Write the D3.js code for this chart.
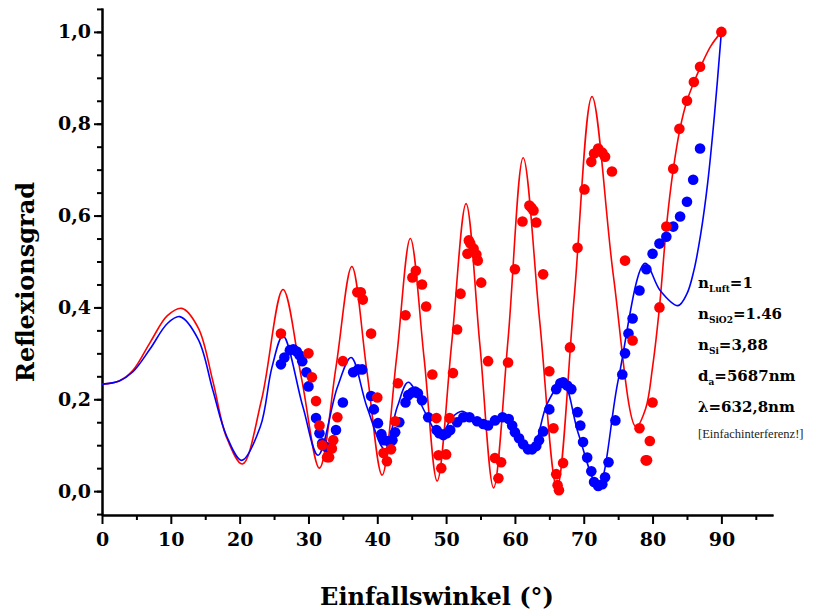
<!DOCTYPE html>
<html>
<head>
<meta charset="utf-8">
<script src="https://cdn.jsdelivr.net/npm/d3@7"></script>
<style>
  html, body { margin: 0; padding: 0; background: #fff; }
  .tick text { font-family: "DejaVu Serif", serif; font-weight: bold; font-size: 19px; fill: #000; }
  .axis path, .axis line { stroke: #000; stroke-width: 2; }
</style>
</head>
<body>
<div id="chart"></div>
<script>
// theory curves
const redCurveX = [0, 2.5, 4.5, 7, 9.5, 11.6, 14, 16.1, 18.1, 20.4, 23.2, 26.3, 29.0, 31.6, 34.0, 36.3, 38.5, 40.7, 42.8, 44.8, 46.8, 48.7, 50.8, 52.9, 54.9, 56.9, 59.0, 61.2, 63.6, 66.1, 68.6, 71.2, 74.3, 77.6, 79, 80, 81, 82, 83, 84, 85, 86, 87, 88.5, 90];
const redCurveY = [0.233, 0.24, 0.263, 0.324, 0.382, 0.398, 0.355, 0.24, 0.117, 0.059, 0.2, 0.439, 0.245, 0.05, 0.27, 0.489, 0.26, 0.035, 0.29, 0.55, 0.29, 0.022, 0.32, 0.626, 0.32, 0.007, 0.33, 0.726, 0.37, 0.007, 0.42, 0.859, 0.47, 0.14, 0.18, 0.27, 0.40, 0.574, 0.70, 0.79, 0.85, 0.89, 0.925, 0.97, 1.0];

const blueCurveX = [0, 2.5, 4.5, 7, 9.5, 11.3, 14, 16.1, 18.1, 20.3, 23.0, 24.7, 26.3, 29.2, 31.4, 34.2, 36.2, 38.5, 41.1, 42.9, 44.5, 47.0, 49.1, 50.9, 52.3, 54.2, 56.0, 58.3, 60.8, 62.5, 64.7, 67.0, 69.2, 72.1, 75.0, 78.9, 81.1, 83.7, 85, 86, 87, 88, 89, 90];
const blueCurveY = [0.233, 0.24, 0.26, 0.31, 0.365, 0.38, 0.33, 0.22, 0.12, 0.067, 0.14, 0.27, 0.338, 0.183, 0.078, 0.226, 0.291, 0.183, 0.091, 0.183, 0.237, 0.17, 0.12, 0.161, 0.174, 0.158, 0.143, 0.165, 0.117, 0.091, 0.191, 0.237, 0.126, 0.011, 0.241, 0.496, 0.437, 0.404, 0.43, 0.48, 0.56, 0.67, 0.82, 1.0];

// measured points
const redDotsX = [26.0, 30.0, 30.5, 31.1, 31.6, 32.0, 32.7, 33.0, 33.4, 33.6, 34.2, 35.0, 37.1, 37.6, 37.9, 39.1, 40.0, 40.9, 41.4, 42.0, 42.6, 43.0, 44.1, 45.1, 45.6, 46.5, 47.1, 48.0, 48.6, 48.9, 49.3, 50.0, 50.5, 51.0, 51.6, 52.1, 53.1, 53.3, 53.5, 54.0, 54.4, 54.6, 55.1, 56.1, 57.1, 57.6, 58.0, 59.0, 60.0, 61.1, 62.1, 62.4, 62.7, 63.1, 64.1, 65.0, 65.6, 66.0, 66.2, 66.4, 67.0, 68.0, 69.1, 70.1, 71.1, 71.5, 72.1, 72.7, 73.1, 74.1, 76.0, 77.1, 78.1, 79.0, 79.2, 79.6, 80.0, 81.0, 82.0, 83.0, 83.9, 85.0, 86.0, 86.9, 90.0];
const redDotsY = [0.343, 0.300, 0.248, 0.196, 0.143, 0.100, 0.074, 0.074, 0.093, 0.111, 0.161, 0.283, 0.433, 0.433, 0.417, 0.343, 0.204, 0.083, 0.065, 0.091, 0.152, 0.235, 0.383, 0.465, 0.480, 0.450, 0.402, 0.254, 0.159, 0.078, 0.050, 0.080, 0.159, 0.257, 0.352, 0.430, 0.517, 0.546, 0.540, 0.528, 0.515, 0.502, 0.454, 0.283, 0.072, 0.028, 0.063, 0.280, 0.483, 0.587, 0.622, 0.617, 0.611, 0.585, 0.472, 0.261, 0.137, 0.037, 0.013, 0.002, 0.061, 0.313, 0.530, 0.657, 0.717, 0.735, 0.746, 0.737, 0.728, 0.696, 0.502, 0.328, 0.137, 0.067, 0.067, 0.109, 0.193, 0.400, 0.576, 0.702, 0.789, 0.850, 0.891, 0.924, 1.000];

const blueDotsX = [26.0, 26.5, 27.3, 27.8, 28.3, 28.7, 29.1, 29.7, 30.0, 31.1, 31.6, 32.0, 32.6, 34.0, 35.0, 36.5, 37.2, 37.8, 39.1, 39.5, 40.1, 40.6, 41.0, 41.6, 42.2, 42.6, 43.2, 44.1, 44.5, 45.1, 45.5, 45.9, 46.5, 47.4, 48.6, 49.0, 49.6, 50.1, 50.6, 51.6, 52.5, 53.4, 54.5, 55.4, 56.1, 57.1, 58.2, 59.1, 59.6, 60.0, 60.6, 61.2, 61.9, 62.5, 63.1, 63.5, 64.1, 65.0, 66.0, 66.6, 67.0, 67.6, 68.2, 69.1, 69.5, 69.9, 70.5, 71.1, 71.5, 72.1, 72.7, 73.1, 73.6, 74.6, 75.6, 76.0, 76.5, 77.1, 78.1, 79.1, 80.0, 81.0, 82.0, 83.0, 84.0, 85.0, 85.9, 86.9];
const blueDotsY = [0.276, 0.291, 0.307, 0.309, 0.304, 0.296, 0.283, 0.259, 0.228, 0.159, 0.126, 0.104, 0.096, 0.133, 0.193, 0.259, 0.265, 0.265, 0.207, 0.178, 0.148, 0.124, 0.111, 0.109, 0.111, 0.128, 0.150, 0.193, 0.209, 0.215, 0.217, 0.213, 0.198, 0.161, 0.133, 0.126, 0.122, 0.126, 0.133, 0.150, 0.161, 0.161, 0.152, 0.146, 0.143, 0.154, 0.161, 0.157, 0.143, 0.128, 0.115, 0.102, 0.091, 0.091, 0.098, 0.111, 0.130, 0.178, 0.222, 0.235, 0.237, 0.230, 0.222, 0.172, 0.143, 0.107, 0.073, 0.043, 0.020, 0.011, 0.015, 0.030, 0.063, 0.154, 0.254, 0.300, 0.343, 0.376, 0.437, 0.483, 0.517, 0.539, 0.554, 0.576, 0.598, 0.630, 0.678, 0.746];

const xTicks = [0, 10, 20, 30, 40, 50, 60, 70, 80, 90];
const yTicks = [0.0, 0.2, 0.4, 0.6, 0.8, 1.0];

function reflexChart() {
    const W = 828, H = 611;
    const margin = { top: 8, right: 55, bottom: 96, left: 102 };
    const width = W - margin.left - margin.right;
    const height = H - margin.top - margin.bottom;

    const svg = d3.select("#chart")
        .append("svg")
        .attr("width", W)
        .attr("height", H)
        .append("g")
        .attr("transform", `translate(${margin.left}, ${margin.top})`);

    const x = d3.scaleLinear().domain([0, 97.5]).range([0, width]);
    const y = d3.scaleLinear().domain([-0.052, 1.052]).range([height, 0]);

    // minor ticks
    svg.append("g")
        .attr("class", "axis")
        .attr("transform", `translate(0, ${height})`)
        .call(d3.axisBottom(x).tickValues(d3.range(5, 97, 10)).tickSize(5).tickSizeOuter(0).tickFormat(""));
    svg.append("g")
        .attr("class", "axis")
        .call(d3.axisLeft(y).tickValues(d3.range(-0.05, 1.06, 0.05)).tickSize(5).tickSizeOuter(0).tickFormat(""));

    // major ticks + labels
    svg.append("g")
        .attr("class", "axis")
        .attr("transform", `translate(0, ${height})`)
        .call(d3.axisBottom(x).tickValues(xTicks).tickSize(9).tickSizeOuter(0).tickPadding(9).tickFormat(d3.format("d")));
    svg.append("g")
        .attr("class", "axis")
        .call(d3.axisLeft(y).tickValues(yTicks).tickSize(8).tickSizeOuter(0).tickPadding(3)
            .tickFormat(d => d3.format(".1f")(d).replace(".", ",")));

    // curves
    const line = d3.line()
        .x(d => x(d[0]))
        .y(d => y(d[1]))
        .curve(d3.curveCatmullRom.alpha(0.5));

    svg.append("path")
        .datum(redCurveX.map((v, i) => [v, redCurveY[i]]))
        .attr("fill", "none")
        .attr("stroke", "#ff0000")
        .attr("stroke-width", 1.6)
        .attr("d", line);

    svg.append("path")
        .datum(blueCurveX.map((v, i) => [v, blueCurveY[i]]))
        .attr("fill", "none")
        .attr("stroke", "#0000ff")
        .attr("stroke-width", 1.6)
        .attr("d", line);

    // dots
    svg.append("g")
        .selectAll("circle")
        .data(blueDotsX.map((v, i) => [v, blueDotsY[i]]))
        .join("circle")
        .attr("cx", d => x(d[0]))
        .attr("cy", d => y(d[1]))
        .attr("r", 5.3)
        .attr("fill", "#0000ff");

    svg.append("g")
        .selectAll("circle")
        .data(redDotsX.map((v, i) => [v, redDotsY[i]]))
        .join("circle")
        .attr("cx", d => x(d[0]))
        .attr("cy", d => y(d[1]))
        .attr("r", 5.3)
        .attr("fill", "#ff0000");

    // axis titles
    svg.append("text")
        .attr("x", 335)
        .attr("y", height + 90)
        .attr("text-anchor", "middle")
        .style("font-family", "'DejaVu Serif', serif")
        .style("font-weight", "bold")
        .style("font-size", "24px")
        .text("Einfallswinkel (°)");

    svg.append("text")
        .attr("transform", `translate(-68, ${282 - margin.top}) rotate(-90)`)
        .attr("text-anchor", "middle")
        .style("font-family", "'DejaVu Serif', serif")
        .style("font-weight", "bold")
        .style("font-size", "24px")
        .text("Reflexionsgrad");

    // parameter block
    const params = [
        ["n", "Luft", "=1"],
        ["n", "SiO2", "=1.46"],
        ["n", "Si", "=3,88"],
        ["d", "a", "=5687nm"],
        ["λ", "", "=632,8nm"]
    ];
    const info = svg.append("g")
        .attr("transform", `translate(${698 - margin.left}, 0)`)
        .style("font-family", "'DejaVu Serif', serif")
        .style("font-weight", "bold");

    params.forEach((p, i) => {
        const t = info.append("text")
            .attr("x", 0)
            .attr("y", 288 - margin.top + i * 31)
            .style("font-size", "15px");
        t.append("tspan").text(p[0]);
        if (p[1]) {
            t.append("tspan").attr("dy", 4).style("font-size", "9px").text(p[1]);
            t.append("tspan").attr("dy", -4).text(p[2]);
        } else {
            t.append("tspan").text(p[2]);
        }
    });

    info.append("text")
        .attr("x", 0)
        .attr("y", 438 - margin.top)
        .style("font-family", "'Liberation Serif', serif")
        .style("font-weight", "normal")
        .style("font-size", "12.5px")
        .style("fill", "#222")
        .text("[Einfachinterferenz!]");
}

reflexChart();
</script>
</body>
</html>
